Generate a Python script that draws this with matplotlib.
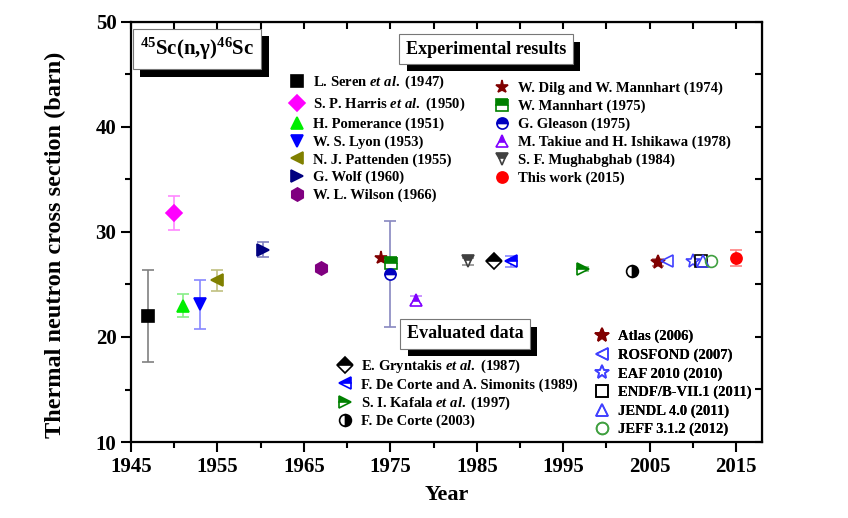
import matplotlib
matplotlib.use("Agg")
import matplotlib.pyplot as plt
import matplotlib.patheffects as pe

plt.rcParams['font.family'] = ['Liberation Serif', 'DejaVu Serif']
plt.rcParams['font.weight'] = 'bold'
plt.rcParams['mathtext.fontset'] = 'custom'
plt.rcParams['mathtext.rm'] = 'Liberation Serif:bold'
plt.rcParams['mathtext.it'] = 'Liberation Serif:italic:bold'
plt.rcParams['mathtext.bf'] = 'Liberation Serif:bold'

# experimental results
exp_labels = [r"L. Seren $\it{et\ al.}$ (1947)", r"S. P. Harris $\it{et\ al.}$ (1950)",
              "H. Pomerance (1951)", "W. S. Lyon (1953)", "N. J. Pattenden (1955)",
              "G. Wolf (1960)", "W. L. Wilson (1966)",
              "W. Dilg and W. Mannhart (1974)", "W. Mannhart (1975)", "G. Gleason (1975)",
              "M. Takiue and H. Ishikawa (1978)", "S. F. Mughabghab (1984)", "This work (2015)"]
exp_years = [1947, 1950, 1951, 1953, 1955, 1960.3, 1967, 1973.9, 1975.1, 1975, 1978, 1984, 2015]
exp_values = [22.0, 31.8, 23.0, 23.1, 25.4, 28.3, 26.6, 27.5, 27.0, 26.0, 23.5, 27.2, 27.5]
exp_errors = [4.4, 1.6, 1.1, 2.3, 1.0, 0.7, 0.0, 0.0, 0.0, 5.0, 0.4, 0.3, 0.75]

# evaluated data
eval_labels = [r"E. Gryntakis $\it{et\ al.}$ (1987)", "F. De Corte and A. Simonits (1989)",
               r"S. I. Kafala $\it{et\ al.}$ (1997)", "F. De Corte (2003)",
               "Atlas (2006)", "ROSFOND (2007)", "EAF 2010 (2010)", "ENDF/B-VII.1 (2011)",
               "JENDL 4.0 (2011)", "JEFF 3.1.2 (2012)"]
eval_years = [1987, 1989, 1997.3, 2003, 2006, 2007, 2010, 2011, 2011.2, 2012.1]
eval_values = [27.2, 27.2, 26.5, 26.3, 27.1, 27.2, 27.2, 27.2, 27.2, 27.2]
eval_errors = [0.0, 0.5, 0.2, 0.0, 0.3, 0.0, 0.0, 0.0, 0.0, 0.0]

# styles: marker, color, fillstyle, errorbar color
exp_styles = [('s', 'black', 'full', '#808080'),
              ('D', '#ff00ff', 'full', '#ff88ff'),
              ('^', '#00ee00', 'full', '#88ee88'),
              ('v', '#0000ff', 'full', '#8888ff'),
              ('<', '#808000', 'full', '#c0c080'),
              ('>', '#000080', 'full', '#8080c0'),
              ('h', '#800080', 'full', '#c080c0'),
              ('*', '#800000', 'full', '#c08080'),
              ('s', '#008000', 'top', '#80c080'),
              ('o', '#0000c0', 'top', '#8888c0'),
              ('^', '#8000ff', 'top', '#c080ff'),
              ('v', '#404040', 'top', '#909090'),
              ('o', '#ff0000', 'full', '#ff8080')]
eval_styles = [('D', 'black', 'top', '#808080'),
               ('<', '#0000ff', 'top', '#8888ff'),
               ('>', '#008000', 'top', '#80c080'),
               ('o', 'black', 'right', '#808080'),
               ('*', '#800000', 'full', '#c08080'),
               ('<', '#4040ff', 'none', '#8888ff'),
               ('*', '#4040ff', 'none', '#8888ff'),
               ('s', 'black', 'none', '#808080'),
               ('^', '#4040ff', 'none', '#8888ff'),
               ('o', '#40a040', 'none', '#80c080')]

W, H = 848, 518
fig = plt.figure(figsize=(W / 100, H / 100), dpi=100)
ax = fig.add_axes([131 / W, 1 - 442 / H, 631 / W, 420 / H])


def draw(years, values, errors, styles, labels, ms=8):
    handles = []
    for x, y, e, (m, c, fs, ec), lab in zip(years, values, errors, styles, labels):
        if e > 0:
            ax.errorbar(x, y, yerr=e, fmt='none', ecolor=ec, elinewidth=1.2,
                        capsize=4, capthick=1.2, zorder=2)
        size = ms + 1.5 if m in ('*', 'h') else ms
        if fs == 'none':
            h, = ax.plot(x, y, marker=m, ls='none', ms=size, mfc='none', mec=c,
                         mew=1.2, label=lab, zorder=3)
        else:
            h, = ax.plot(x, y, marker=m, ls='none', ms=size, color=c, mec=c,
                         fillstyle=fs, mfcalt='white', mew=1.2, label=lab, zorder=3)
        handles.append(h)
    return handles


exp_h = draw(exp_years, exp_values, exp_errors, exp_styles, exp_labels)
eval_h = draw(eval_years, eval_values, eval_errors, eval_styles, eval_labels, ms=8.5)

ax.set_xlim(1945, 2018)
ax.set_ylim(10, 50)
ax.set_xticks(range(1945, 2016, 10))
ax.set_xticks(range(1950, 2018, 10), minor=True)
ax.set_yticks(range(10, 51, 10))
ax.set_yticks(range(15, 50, 10), minor=True)
ax.tick_params(axis='both', which='both', direction='out', width=1.5, labelsize=15)
ax.tick_params(which='major', length=7)
ax.tick_params(which='minor', length=4)
for s in ax.spines.values():
    s.set_linewidth(1.6)

# inward ticks on top and right
axt = ax.secondary_xaxis('top')
axt.set_xticks(range(1945, 2016, 5))
axt.tick_params(direction='in', length=5, width=1.5, labeltop=False)
axr = ax.secondary_yaxis('right')
axr.set_yticks(range(10, 51, 5))
axr.tick_params(direction='in', length=5, width=1.5, labelright=False)

ax.set_xlabel("Year", fontsize=16, fontweight='bold', labelpad=6)
ax.set_ylabel("Thermal neutron cross section (barn)", fontsize=17.5, fontweight='bold')
ax.yaxis.set_label_coords(-0.103, 0.469)


def place_legend(handles, x_px, y_px, spacing=0.3):
    leg = ax.legend(handles=handles, loc='upper left',
                    bbox_to_anchor=(x_px / W, 1 - y_px / H), bbox_transform=fig.transFigure,
                    frameon=False, fontsize=10.5, handlelength=1.0, handletextpad=0.6,
                    labelspacing=spacing, borderpad=0, borderaxespad=0, numpoints=1)
    ax.add_artist(leg)


place_legend(exp_h[:7], 290, 74)
place_legend(exp_h[7:], 495, 82)
place_legend(eval_h[:4], 338, 358, spacing=0.2)
place_legend(eval_h[4:], 595, 330, spacing=0.35)


def shadow_box(x_px, y_px, text, size):
    t = fig.text(x_px / W, 1 - y_px / H, text, fontsize=size, fontweight='bold',
                 ha='center', va='center', zorder=5,
                 bbox=dict(boxstyle='square,pad=0.35', fc='white', ec='#777777', lw=0.8))
    t.get_bbox_patch().set_path_effects(
        [pe.SimplePatchShadow(offset=(5.5, -5.5), shadow_rgbFace='black', alpha=1), pe.Normal()])


shadow_box(197, 49, r"$^{45}$Sc(n,γ)$^{46}$Sc", 15)
shadow_box(486, 49, "Experimental results", 13)
shadow_box(465, 334, "Evaluated data", 13)

fig.savefig("out.png", dpi=100)
